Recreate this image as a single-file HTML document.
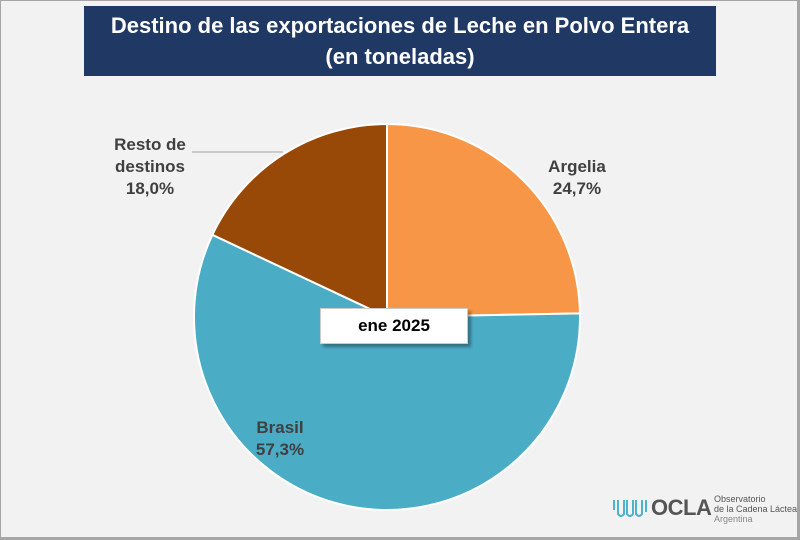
<!DOCTYPE html>
<html><head><meta charset="utf-8"><style>
body{margin:0;width:800px;height:540px;overflow:hidden;background:#fff;font-family:"Liberation Sans",sans-serif}
#frame{position:absolute;left:0;top:0;width:796px;height:536px;background:#f2f2f2;border:1px solid #a6a6a6;border-right-width:3px;border-bottom-width:3px}
#title{position:absolute;left:84px;top:6px;width:632px;height:70px;background:#1f3864;color:#fff;font-weight:bold;font-size:22px;text-align:center;line-height:31px;padding-top:4px;box-sizing:border-box}
</style></head><body>
<div id="frame"></div>
<div id="title">Destino de las exportaciones de Leche en Polvo Entera<br>(en toneladas)</div>
<svg id="chart" width="800" height="540" style="position:absolute;left:0;top:0"></svg>
<div style="position:absolute;left:612px;top:492px;width:186px;height:40px;white-space:nowrap">
<svg width="40" height="24" style="position:absolute;left:0;top:4px"><path d="M2 4 V14 M6 4 V18 Q9 22 12 18 V4 M15 4 V18 Q18 22 21 18 V4 M24 4 V18 Q27 22 30 18 V4 M34 4 V16" stroke="#4bb3cc" stroke-width="2" fill="none"/></svg>
<div style="position:absolute;left:39px;top:3px;font-size:22px;font-weight:bold;color:#555;letter-spacing:-0.5px">OCLA</div>
<div style="position:absolute;left:102px;top:2px;font-size:9px;color:#555;line-height:10px">Observatorio<br>de la Cadena Láctea<br><span style="color:#888">Argentina</span></div>
</div>
<script>
const categories=["Argelia","Brasil","Resto de destinos"];
const values=[24.7,57.3,18.0];
const colors=["#f79646","#4bacc6","#984807"];
const labels=["Argelia\n24,7%","Brasil\n57,3%","Resto de\ndestinos\n18,0%"];
const labelPos=[[577,183],[280,444],[150,172]];
const NS="http://www.w3.org/2000/svg";
const svg=document.getElementById("chart");
const cx=387,cy=317,r=193;
const total=values.reduce((a,b)=>a+b,0);
let a0=0;
function pt(a){return [cx+r*Math.sin(a),cy-r*Math.cos(a)];}
values.forEach((v,i)=>{
  const a1=a0+v/total*2*Math.PI;
  const p0=pt(a0),p1=pt(a1);
  const large=(a1-a0)>Math.PI?1:0;
  const path=document.createElementNS(NS,"path");
  path.setAttribute("d",`M${cx},${cy} L${p0[0]},${p0[1]} A${r},${r} 0 ${large} 1 ${p1[0]},${p1[1]} Z`);
  path.setAttribute("fill",colors[i]);
  path.setAttribute("stroke","#fff");
  path.setAttribute("stroke-width","2");
  
  
  svg.appendChild(path);
  a0=a1;
});
const ln=document.createElementNS(NS,"line");
ln.setAttribute("x1",192);ln.setAttribute("y1",152);ln.setAttribute("x2",283);ln.setAttribute("y2",152);
ln.setAttribute("stroke","#a6a6a6");


svg.appendChild(ln);
labels.forEach((t,i)=>{
  const tx=document.createElementNS(NS,"text");
  tx.setAttribute("x",labelPos[i][0]);tx.setAttribute("y",labelPos[i][1]-(t.split("\n").length-1)*11);
  tx.setAttribute("text-anchor","middle");
  tx.setAttribute("font-weight","bold");tx.setAttribute("font-size","17");tx.setAttribute("fill","#404040");
  
  
  t.split("\n").forEach((s,j)=>{const sp=document.createElementNS(NS,"tspan");sp.setAttribute("x",labelPos[i][0]);sp.setAttribute("dy",j?22:0);sp.textContent=s;tx.appendChild(sp);});
  svg.appendChild(tx);
});
</script>
<div style="position:absolute;left:320px;top:308px;width:146px;height:34px;background:#fff;border:1px solid #ccc;box-shadow:3px 3px 3px rgba(0,0,0,.35);font-weight:bold;font-size:17px;text-align:center;line-height:34px;color:#000">ene 2025</div>
</body></html>
